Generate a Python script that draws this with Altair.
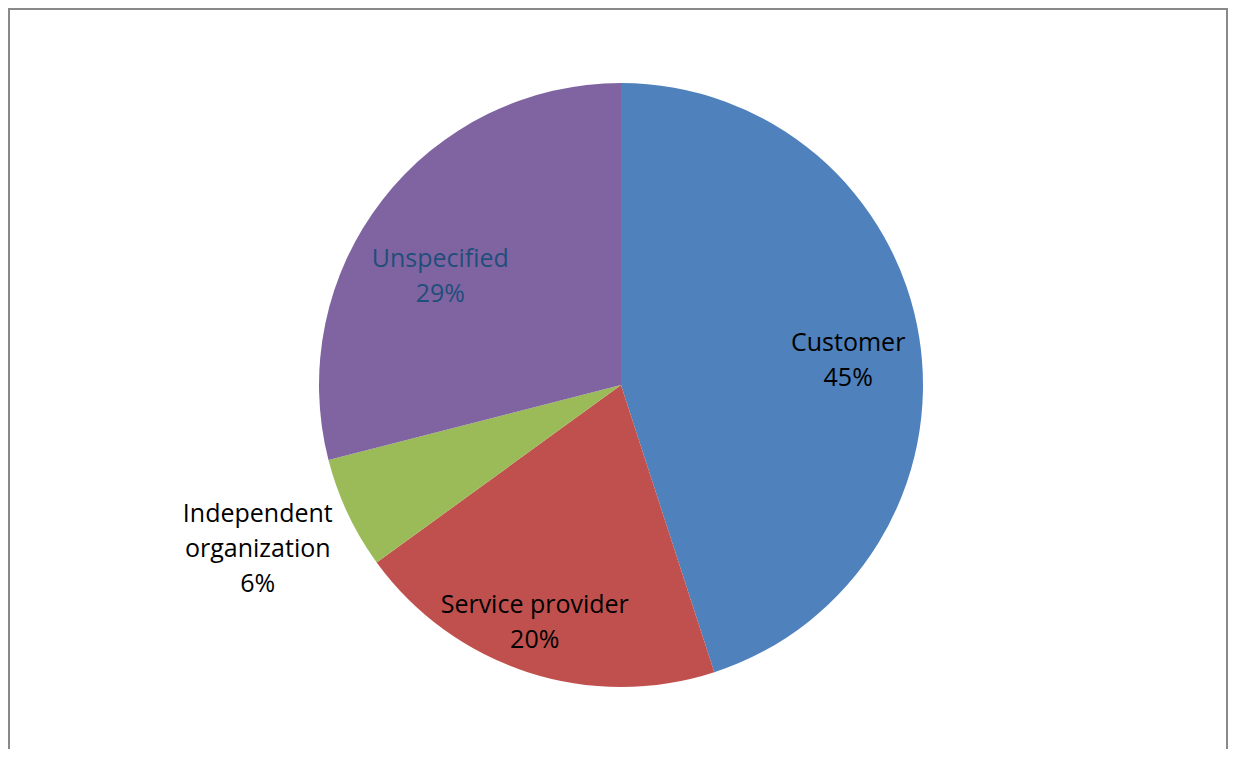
import altair as alt
import pandas as pd

categories = ["Customer", "Service provider", "Independent organization", "Unspecified"]
values = [45, 20, 6, 29]
label_lines = [["Customer"], ["Service provider"], ["Independent", "organization"], ["Unspecified"]]
colors = ["#4F81BD", "#C0504D", "#9BBB59", "#8064A2"]

df = pd.DataFrame({
    "category": categories,
    "value": values,
    "order": list(range(len(categories))),
    "label": ["\n".join(l + [f"{v}%"]) for l, v in zip(label_lines, values)],
})

W, H = 1220, 741
CX, CY = 613, 377  # pie centre inside the view

# label placement styles: (radius, dx, dy, color)
label_style = {
    "Customer": (228, 2, -6, "#000000"),
    "Service provider": (250, -9, -18, "#000000"),
    "Independent organization": (397, -4, -40, "#000000"),
    "Unspecified": (211, -14, 3, "#1F4E7A"),
}

theta_scale = alt.Scale(domain=[0, 100])

base = alt.Chart(df).transform_stack(
    stack="value", groupby=[], as_=["start", "end"], sort=[alt.SortField("order", order="ascending")]
).transform_calculate(mid="(datum.start + datum.end) / 2")

pie = base.mark_arc(outerRadius=302).encode(
    theta=alt.Theta("start:Q", scale=theta_scale),
    theta2="end:Q",
    x=alt.value(CX),
    y=alt.value(CY),
    color=alt.Color("category:N", scale=alt.Scale(domain=categories, range=colors), legend=None),
)

layers = [pie]
for cat, (r, dx, dy, col) in label_style.items():
    layers.append(
        base.transform_filter(alt.datum.category == cat).mark_text(
            radius=r, dx=dx, dy=dy, font="Open Sans", fontSize=25,
            lineBreak="\n", lineHeight=35, align="center", baseline="middle", color=col
        ).encode(
            theta=alt.Theta("mid:Q", scale=theta_scale),
            x=alt.value(CX),
            y=alt.value(CY),
            text="label:N",
        )
    )

border = alt.Chart(df).mark_rect(filled=False, stroke="#898989", strokeWidth=2).encode(
    x=alt.value(1), x2=alt.value(W - 1), y=alt.value(1), y2=alt.value(H + 10)
)
layers.append(border)

chart = alt.layer(*layers).properties(
    width=W, height=H, padding=0, autosize=alt.AutoSizeParams(type="none")
).configure_view(stroke=None)

chart.save("out.html", embed_options={"renderer": "svg", "actions": False})
